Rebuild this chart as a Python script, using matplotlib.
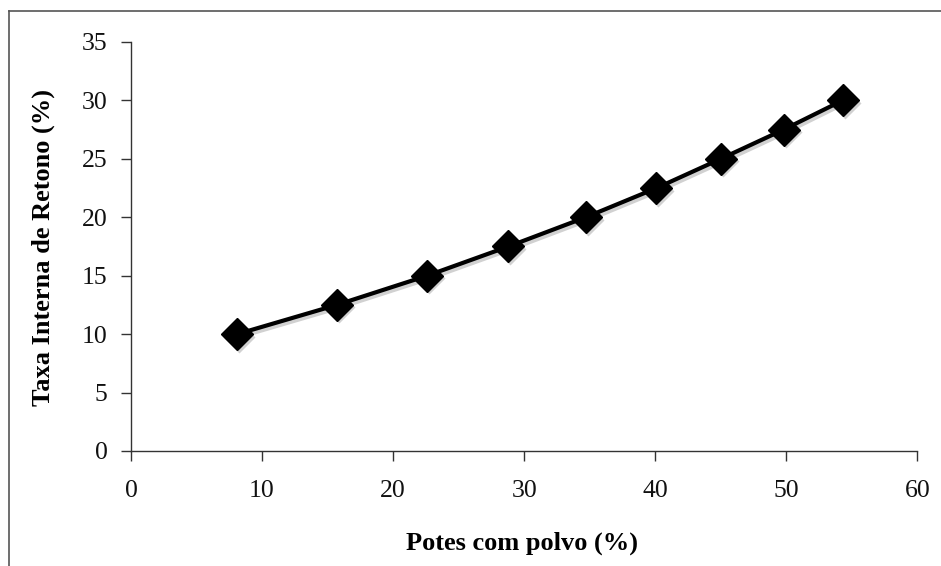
import matplotlib
matplotlib.use("Agg")
import matplotlib.pyplot as plt
import matplotlib.transforms as mtransforms
from matplotlib.lines import Line2D

potes = [8.1, 15.7, 22.6, 28.8, 34.7, 40.1, 45.0, 49.8, 54.3]
tir = [10, 12.5, 15, 17.5, 20, 22.5, 25, 27.5, 30]
xticks = [0, 10, 20, 30, 40, 50, 60]
yticks = [0, 5, 10, 15, 20, 25, 30, 35]

plt.rcParams['font.family'] = ['Liberation Serif', 'DejaVu Serif']

fig = plt.figure(figsize=(9.41, 5.66), dpi=100)
ax = fig.add_axes([0.1392, 0.2032, 0.9748 - 0.1392, 0.9258 - 0.2032])

# soft drop shadow
shadow_tr = mtransforms.offset_copy(ax.transData, fig=fig, x=2, y=-2.5, units='dots')
ax.plot(potes, tir, color='0.6', alpha=0.45, lw=3.5, marker='D', markersize=16.5,
        markeredgecolor='none', transform=shadow_tr)
ax.plot(potes, tir, color='black', lw=3, marker='D', markersize=16,
        markerfacecolor='black', markeredgecolor='black')

ax.set_xlim(0, 60)
ax.set_ylim(0, 35)
ax.set_xticks(xticks)
ax.set_yticks(yticks)
ax.tick_params(direction='out', length=7, width=1, labelsize=18.5, colors='#333333',
               labelcolor='#111111')
ax.tick_params(axis='x', pad=14)
ax.tick_params(axis='y', pad=10)
for s in ['top', 'right']:
    ax.spines[s].set_visible(False)
for s in ['left', 'bottom']:
    ax.spines[s].set_color('#333333')
    ax.spines[s].set_linewidth(1)

fig.text(0.046, 0.563, 'Taxa Interna de Retono (%)', rotation=90, fontsize=19,
         fontweight='bold', ha='center', va='center')
fig.text(0.555, 0.040, 'Potes com polvo (%)', fontsize=19, fontweight='bold',
         ha='center', va='center')

# outer chart frame (left and top edges visible)
fig.add_artist(Line2D([0.0096, 0.0096], [0.0, 0.9806], color='#555555', lw=1.2,
                      transform=fig.transFigure))
fig.add_artist(Line2D([0.0096, 1.0], [0.9806, 0.9806], color='#555555', lw=1.2,
                      transform=fig.transFigure))

fig.savefig('out.png', dpi=100)
